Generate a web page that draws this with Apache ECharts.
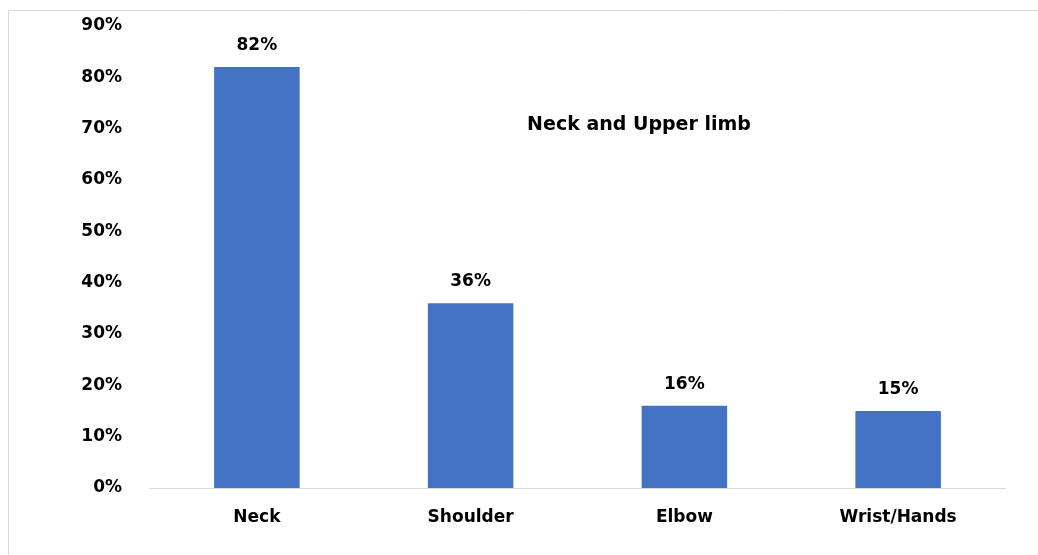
<!DOCTYPE html>
<html>
<head>
<meta charset="utf-8">
<script src="https://cdn.jsdelivr.net/npm/echarts@6/dist/echarts.min.js"></script>
<style>
  html, body { margin: 0; padding: 0; background: #fff; }
  #chart { width: 1038px; height: 555px; }
</style>
</head>
<body>
<div id="chart"></div>
<script>
// Body regions reporting musculoskeletal complaints
const categories = ['Neck', 'Shoulder', 'Elbow', 'Wrist/Hands'];
const percentValues = [82, 36, 16, 15];
const yTicks = [0, 10, 20, 30, 40, 50, 60, 70, 80, 90];
const chartTitle = 'Neck and Upper limb';

const FONT = '"DejaVu Sans", Verdana, sans-serif';

const chart = echarts.init(document.getElementById('chart'), null, { renderer: 'canvas' });
chart.setOption({
  animation: false,
  backgroundColor: '#ffffff',
  title: {
    text: chartTitle,
    left: 634,
    top: 111,
    textAlign: 'center',
    textStyle: { fontFamily: FONT, fontWeight: 'bold', fontSize: 19, color: '#000' }
  },
  graphic: [{
    type: 'rect',
    shape: { x: 8.5, y: 10.5, width: 1100, height: 600 },
    style: { fill: 'none', stroke: '#d9d9d9', lineWidth: 1 },
    silent: true
  }],
  grid: { left: 150, right: 33, top: 26, bottom: 67 },
  xAxis: {
    type: 'category',
    data: categories,
    axisLine: { lineStyle: { color: '#d9d9d9', width: 1 } },
    axisTick: { show: false },
    axisLabel: { margin: 21, fontFamily: FONT, fontWeight: 'bold', fontSize: 17, color: '#000' }
  },
  yAxis: {
    type: 'value',
    min: yTicks[0],
    max: yTicks[yTicks.length - 1],
    interval: 10,
    axisLine: { show: false },
    axisTick: { show: false },
    splitLine: { show: false },
    axisLabel: {
      margin: 28,
      formatter: v => v + '%',
      fontFamily: FONT, fontWeight: 'bold', fontSize: 17, color: '#000'
    }
  },
  series: [{
    type: 'bar',
    data: percentValues,
    barWidth: '40%',
    itemStyle: { color: '#4472C4' },
    label: {
      show: true,
      position: 'top',
      distance: 13,
      formatter: p => p.value + '%',
      fontFamily: FONT, fontWeight: 'bold', fontSize: 17, color: '#000'
    }
  }]
});
</script>
</body>
</html>
